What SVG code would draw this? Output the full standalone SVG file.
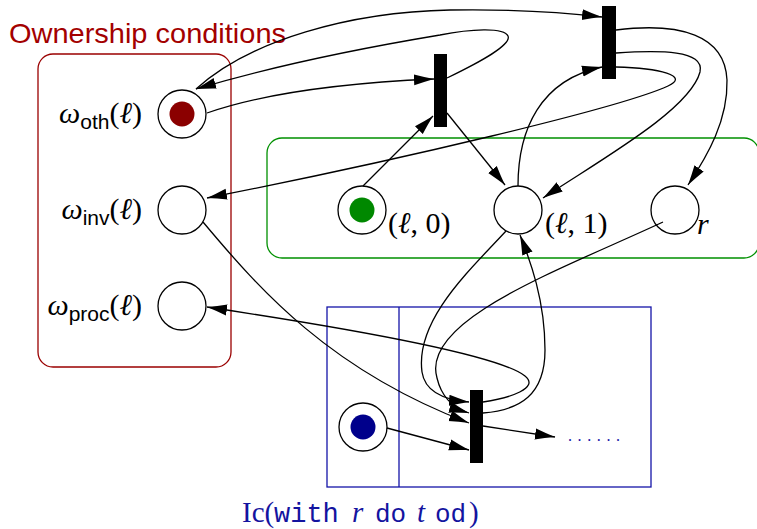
<svg xmlns="http://www.w3.org/2000/svg" width="757" height="529" viewBox="0 0 757 529">
<defs>
<style>
.pl{fill:#fff;stroke:#000;stroke-width:1.3}
.tr{fill:#000}
.arc{fill:none;stroke:#000;stroke-width:1.3}
.ar{marker-end:url(#ah)}
.serif{font-family:"Liberation Serif","DejaVu Serif",serif;font-size:30px;fill:#000}
.it{font-style:italic}
.sub{font-family:"Liberation Sans","DejaVu Sans",sans-serif;font-size:21px}
.mono{font-family:"Liberation Mono","DejaVu Sans Mono",monospace}
</style>
<marker id="ah" markerUnits="userSpaceOnUse" markerWidth="21" markerHeight="12" viewBox="0 0 21 12" refX="20" refY="6" orient="auto">
<path d="M0,0.5 Q10,3.6 20,6 Q10,8.4 0,11.5 z" fill="#000"/>
</marker>
</defs>
<rect width="757" height="529" fill="#fff"/>

<g id="ownership-box">
<rect x="38" y="54" width="193" height="313" rx="15" fill="none" stroke="#9a0000" stroke-width="1.3"/>
<text x="9" y="43" font-family="Liberation Sans,DejaVu Sans,sans-serif" font-size="28" fill="#a30000" textLength="277" lengthAdjust="spacingAndGlyphs">Ownership conditions</text>
</g>
<g id="loc-box">
<rect x="267" y="138" width="492" height="120" rx="15" fill="none" stroke="#009000" stroke-width="1.3"/>
</g>
<g id="ic-box">
<rect x="327" y="307" width="324" height="180" fill="none" stroke="#1414a8" stroke-width="1.3"/>
<line x1="399" y1="307" x2="399" y2="487" stroke="#1414a8" stroke-width="1.3"/>
<text x="568" y="441" font-family="Liberation Serif,serif" font-size="16" fill="#1414a8" letter-spacing="5.6">......</text>
<text y="522" font-family="Liberation Serif,DejaVu Serif,serif" font-size="29" fill="#14149f"><tspan x="242">Ic(</tspan><tspan x="274" class="mono" font-size="27">with</tspan><tspan x="352" font-style="italic">r</tspan><tspan x="375" class="mono" font-size="26">do</tspan><tspan x="417" font-style="italic">t</tspan><tspan x="435" class="mono" font-size="26">od</tspan><tspan x="469">)</tspan></text>
</g>

<g id="w-oth">
<circle class="pl" cx="182" cy="114" r="24"/>
<circle cx="182" cy="114" r="12.5" fill="#8b0000"/>
<text class="serif" x="142" y="123" text-anchor="end"><tspan class="it">ω</tspan><tspan class="sub" dy="6">oth</tspan><tspan dy="-6">(</tspan><tspan class="it">ℓ</tspan>)</text>
</g>
<g id="w-inv">
<circle class="pl" cx="182" cy="210" r="24"/>
<text class="serif" x="142" y="219" text-anchor="end"><tspan class="it">ω</tspan><tspan class="sub" dy="6">inv</tspan><tspan dy="-6">(</tspan><tspan class="it">ℓ</tspan>)</text>
</g>
<g id="w-proc">
<circle class="pl" cx="182" cy="306" r="24"/>
<text class="serif" x="142" y="315" text-anchor="end"><tspan class="it">ω</tspan><tspan class="sub" dy="6">proc</tspan><tspan dy="-6">(</tspan><tspan class="it">ℓ</tspan>)</text>
</g>
<g id="l0">
<circle class="pl" cx="362" cy="210" r="24"/>
<circle cx="362" cy="210" r="12.5" fill="#008800"/>
<text class="serif" x="388" y="233">(<tspan class="it">ℓ</tspan>, 0)</text>
</g>
<g id="l1">
<circle class="pl" cx="518" cy="210" r="24"/>
<text class="serif" x="545" y="233">(<tspan class="it">ℓ</tspan>, 1)</text>
</g>
<g id="r">
<circle class="pl" cx="675" cy="210" r="24"/>
<text class="serif it" x="697" y="234">r</text>
</g>
<g id="ic-place">
<circle class="pl" cx="363" cy="427" r="24"/>
<circle cx="363" cy="427" r="12.5" fill="#00008b"/>
</g>
<g id="t1"><rect class="tr" x="434" y="54" width="13" height="73"/></g>
<g id="t2"><rect class="tr" x="602" y="6" width="14" height="73"/></g>
<g id="t3"><rect class="tr" x="470" y="390" width="13" height="73"/></g>

<g id="connectors" class="arc">
<path class="ar" d="M207,113 C250,98 320,84 434,79"/>
<path class="ar" d="M447,78 C480,62 512,45 508,36 C504,27 470,29 440,35 C380,45 280,64 196,89"/>
<path class="ar" d="M196,89 C250,40 350,12 450,10 C510,9 560,12 602,17"/>
<path class="ar" d="M616,30 C680,22 725,35 727,80 C728,120 708,155 688,185"/>
<path class="ar" d="M616,53 C660,50 705,50 700,72 C690,110 600,160 543,198"/>
<path class="ar" d="M616,67 C660,68 690,76 668,86 C620,108 400,160 207,198"/>
<path class="ar" d="M518,186 C518,130 540,80 602,67"/>
<path class="ar" d="M363,186 L433,116"/>
<path class="ar" d="M447,113 L505,185"/>
<path class="ar" d="M203,222 C260,290 330,370 469,423"/>
<path class="ar" d="M483,402 C510,398 540,388 525,376 C500,356 360,330 207,307"/>
<path class="ar" d="M483,413 C520,410 545,395 545,350 C545,300 530,260 520,235"/>
<path class="ar" d="M506,231 C470,270 415,320 422,372 C425,392 445,400 469,402"/>
<path class="ar" d="M663,222 C560,270 420,320 437,378 C441,395 452,408 469,413"/>
<path class="ar" d="M387,428 L469,450"/>
<path class="ar" d="M483,426 L555,437"/>
</g>
</svg>
